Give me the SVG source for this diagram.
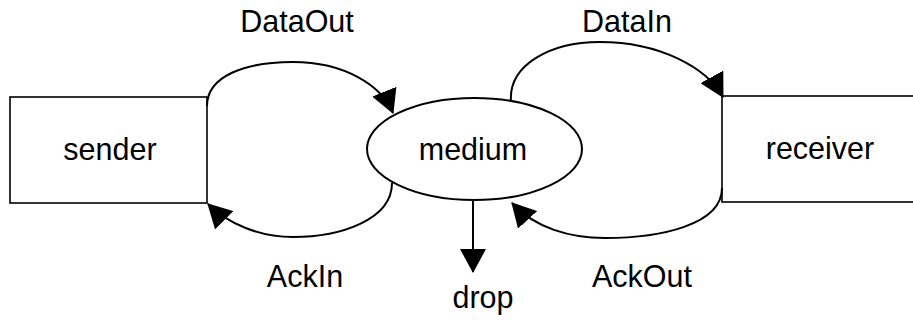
<svg xmlns="http://www.w3.org/2000/svg" width="913" height="322" viewBox="0 0 913 322">
  <style>
    .box { fill: #fff; stroke: #000; stroke-width: 1.6; }
    .proc { fill: #fff; stroke: #000; stroke-width: 2; }
    .link { fill: none; stroke: #000; stroke-width: 2; marker-end: url(#arrow); }
    text { font-family: "Liberation Sans", Arial, sans-serif; font-size: 30.5px; fill: #000; text-anchor: middle; }
  </style>
  <defs>
    <marker id="arrow" markerUnits="userSpaceOnUse" markerWidth="25" markerHeight="26" refX="23" refY="13" orient="auto">
      <path d="M0,0 L24,13 L0,26 z" fill="#000"/>
    </marker>
  </defs>
  <rect width="913" height="322" fill="#fff"/>

  <g id="sender">
    <rect class="box" x="10" y="97" width="197" height="106"/>
    <text x="110" y="160">sender</text>
  </g>

  <g id="receiver">
    <rect class="box" x="722" y="96" width="220" height="106"/>
    <text x="820" y="159">receiver</text>
  </g>

  <g id="medium">
    <ellipse class="proc" cx="474.5" cy="149" rx="107.5" ry="51"/>
    <text x="473" y="160">medium</text>
  </g>

  <g id="connectors">
    <!-- sender -> medium -->
    <path class="link" d="M207,106 C207,76 245,62 293,62 C345,62 382,86 393,113"/>
    <text x="297" y="32">DataOut</text>
    <!-- medium -> sender -->
    <path class="link" d="M392,183 C392,220 340,237 293,237 C260,237 228,224 208,204"/>
    <text x="305" y="287">AckIn</text>
    <!-- medium -> receiver -->
    <path class="link" d="M511,102 C508,65 550,42 600,42 C660,42 707,68 723,97"/>
    <text x="627" y="32">DataIn</text>
    <!-- receiver -> medium -->
    <path class="link" d="M722,188 C722,225 660,238 605,238 C570,238 535,228 512,203"/>
    <text x="642" y="287">AckOut</text>
    <!-- medium -> drop -->
    <path class="link" d="M473,200 L473,272"/>
    <text x="483" y="308">drop</text>
  </g>
</svg>
